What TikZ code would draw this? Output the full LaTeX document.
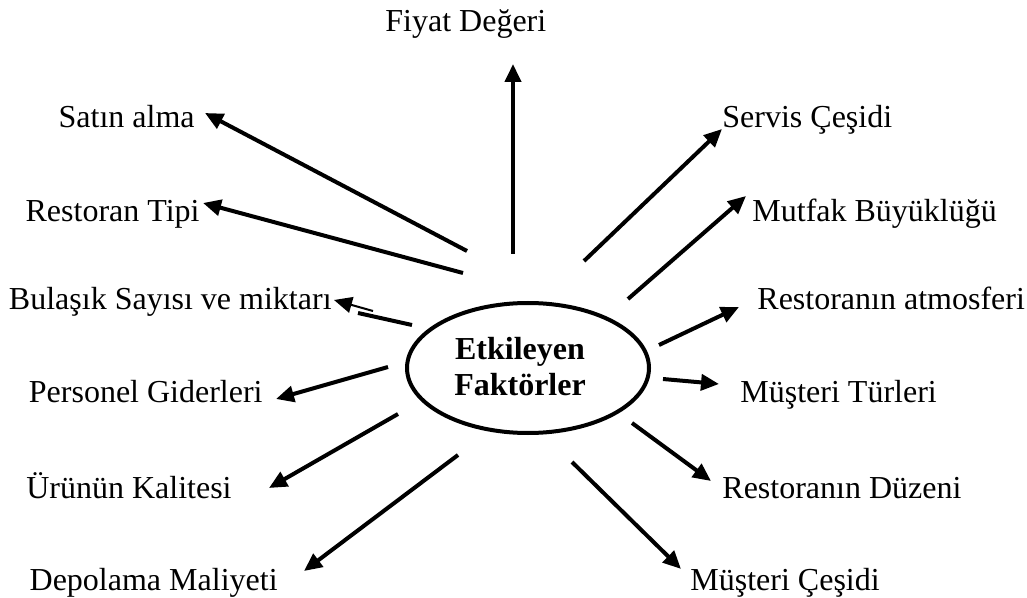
\documentclass[tikz,border=0pt]{standalone}
\usepackage{fontspec}
\setmainfont{Liberation Serif}
\usetikzlibrary{arrows.meta,shapes.geometric}
\begin{document}
\begin{tikzpicture}[x=0.5pt,y=-0.5pt,
  lbl/.style={anchor=base west,inner sep=0pt,font=\fontsize{16pt}{18pt}\selectfont},
  rlbl/.style={lbl,anchor=base east},
  tip/.style={-{Triangle[length=9pt,width=8pt]}},
  conn/.style={line width=2pt,tip}]
\useasboundingbox (0,0) rectangle (1027,598);

% central ellipse and its title
\node[draw,ellipse,line width=2pt,minimum width=121pt,minimum height=65pt,inner sep=0pt] (c) at (528,368) {};
\node[align=center,inner sep=0pt,font=\fontsize{16pt}{18pt}\selectfont\bfseries] (t) at (520,367) {Etkileyen\\Faktörler};

% factor labels, left side aligned on their right ends
\node[lbl]  (l1) at (385,32)  {Fiyat Değeri};
\node[rlbl] (l2) at (195,128) {Satın alma};
\node[rlbl] (l3) at (200,222) {Restoran Tipi};
\node[rlbl] (l4) at (332,310) {Bulaşık Sayısı ve miktarı};
\node[rlbl] (l5) at (263,402) {Personel Giderleri};
\node[rlbl] (l6) at (232,498) {Ürünün Kalitesi};
\node[rlbl] (l7) at (278,590) {Depolama Maliyeti};
% right side aligned on their left ends
\node[lbl]  (r1) at (722,128) {Servis Çeşidi};
\node[lbl]  (r2) at (752,222) {Mutfak Büyüklüğü};
\node[lbl]  (r3) at (757,310) {Restoranın atmosferi};
\node[lbl]  (r4) at (740,402) {Müşteri Türleri};
\node[lbl]  (r5) at (722,498) {Restoranın Düzeni};
\node[lbl]  (r6) at (690,590) {Müşteri Çeşidi};

% arrow end points
\coordinate (a1) at (513,254);  \coordinate (b1) at (513,64);
\coordinate (a2) at (467,251);  \coordinate (b2) at (205,113);
\coordinate (a3) at (463,273);  \coordinate (b3) at (203,203);
\coordinate (a4) at (412,325);  \coordinate (m4) at (358,313);
\coordinate (n4) at (373,311);  \coordinate (b4) at (334,300);
\coordinate (a5) at (388,367);  \coordinate (b5) at (276,399);
\coordinate (a6) at (398,414);  \coordinate (b6) at (269,488);
\coordinate (a7) at (458,455);  \coordinate (b7) at (304,571);
\coordinate (c1) at (584,261);  \coordinate (d1) at (722,129);
\coordinate (c2) at (628,299);  \coordinate (d2) at (746,196);
\coordinate (c3) at (659,345);  \coordinate (d3) at (739,307);
\coordinate (c4) at (663,379);  \coordinate (d4) at (719,384);
\coordinate (c5) at (632,423);  \coordinate (d5) at (711,481);
\coordinate (c6) at (572,462);  \coordinate (d6) at (681,569);

% connectors
\draw[conn] (a1) -- (b1);
\draw[conn] (a2) -- (b2);
\draw[conn] (a3) -- (b3);
\draw[line width=2pt] (a4) -- (m4);
\draw[line width=1pt,tip] (n4) -- (b4);
\draw[conn] (a5) -- (b5);
\draw[conn] (a6) -- (b6);
\draw[conn] (a7) -- (b7);
\draw[conn] (c1) -- (d1);
\draw[conn] (c2) -- (d2);
\draw[conn] (c3) -- (d3);
\draw[conn] (c4) -- (d4);
\draw[conn] (c5) -- (d5);
\draw[conn] (c6) -- (d6);
\end{tikzpicture}
\end{document}
